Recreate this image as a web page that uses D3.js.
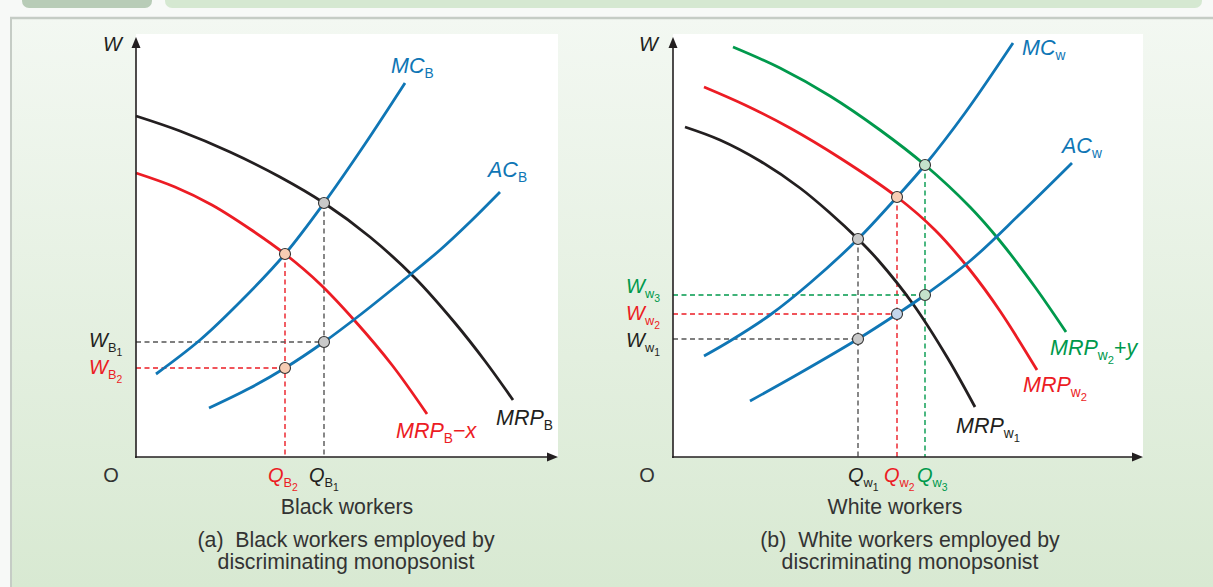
<!DOCTYPE html>
<html><head><meta charset="utf-8">
<script src="https://cdn.jsdelivr.net/npm/d3@7"></script>
<style>
html,body{margin:0;padding:0;background:#f7f9f7;}
svg{display:block;font-family:"Liberation Sans",Arial,sans-serif;}
text{white-space:pre;}
</style></head><body>
<svg id="c" width="1213" height="587"></svg>
<script>
// ---------- DATA (quantity, wage) ----------
// Panel (a): Black workers
const mrpB   = [[0,341],[44,326],[94,305],[144,280],[188,254],[234,220],[279,179],[319,134],[349,96],[377,57]];
const mrpBx  = [[0,284],[39,270],[76,252],[114,228],[149,203],[184,173],[219,136],[256,92],[291,43]];
const mcB    = [[20,83],[64,117],[106,157],[149,203],[188,254],[229,313],[269,374]];
const acB    = [[73,49],[114,69],[149,89],[188,115],[224,142],[264,174],[304,207],[334,235],[364,265]];
const qB     = [149, 188];          // Q_B2, Q_B1
const eqTopB = [203, 254];          // MC = MRP at Q_B2, Q_B1
const wB     = [89, 115];           // W_B2, W_B1
// Panel (b): White workers
const mrpW1  = [[12,330],[47,317],[87,296],[127,269],[157,244],[185,218],[205,197],[240,153],[274,100],[302,50]];
const mrpW2  = [[31,370],[72,352],[117,329],[167,299],[224,260],[262,227],[297,187],[327,146],[364,87]];
const mrpW2y = [[60,410],[107,389],[157,361],[207,327],[252,292],[297,250],[327,216],[362,170],[393,125]];
const mcW    = [[31,101],[57,116],[97,142],[137,174],[185,218],[224,260],[252,292],[292,344],[340,414]];
const acW    = [[77,56],[127,84],[185,118],[224,143],[252,162],[297,196],[347,243],[399,294]];
const qW     = [185, 224, 252];     // Q_w1, Q_w2, Q_w3
const eqTopW = [218, 260, 292];
const wW     = [118, 143, 162];     // W_w1, W_w2, W_w3

const BLUE="#0f76b5", RED="#ec1c24", GREEN="#00994c", BLACK="#231f20", GREY="#555";

const svg = d3.select("#c");
// ---------- background / frame ----------
const defs = svg.append("defs");
const gr = defs.append("linearGradient").attr("id","bg").attr("x1",0).attr("y1",0).attr("x2",0).attr("y2",1);
gr.append("stop").attr("offset","0%").attr("stop-color","#f3f8f2");
gr.append("stop").attr("offset","100%").attr("stop-color","#d8e9d2");
svg.append("rect").attr("width",1213).attr("height",587).attr("fill","#f7f9f7");
svg.append("rect").attr("x",11).attr("y",18).attr("width",1202).attr("height",569).attr("fill","url(#bg)");
svg.append("rect").attr("x",22).attr("y",-10).attr("width",130).attr("height",18).attr("rx",7).attr("fill","#b8ccb7");
svg.append("rect").attr("x",165).attr("y",-10).attr("width",1037).attr("height",18).attr("rx",7).attr("fill","#d5e8d1");
svg.append("line").attr("x1",10).attr("x2",1213).attr("y1",18).attr("y2",18).attr("stroke","#c5ccc5").attr("stroke-width",2.5);
svg.append("line").attr("x1",11).attr("x2",11).attr("y1",18).attr("y2",587).attr("stroke","#c5ccc5").attr("stroke-width",2);

// ---------- scales ----------
const yS = d3.scaleLinear().domain([0,420]).range([457,37]);
const xA = d3.scaleLinear().domain([0,422]).range([136,558]);
const xBs = d3.scaleLinear().domain([0,470]).range([673,1143]);

function label(g, x, y, parts, color, fs, anchor){
  const t = g.append("text").attr("x",x).attr("y",y).attr("fill",color)
    .attr("font-size",fs).attr("text-anchor",anchor||"start");
  const off = {0:0,1:5,2:9}, size={0:fs,1:fs*0.64,2:fs*0.52};
  let cur = 0;
  parts.forEach(p=>{
    const [txt, lvl, up] = p;
    const s = t.append("tspan").text(txt).attr("font-size",size[lvl])
      .attr("dy", off[lvl]-off[cur]);
    if(lvl===0 && !up) s.attr("font-style","italic");
    cur = lvl;
  });
  return t;
}

function panel(x, y, curves, qs, tops, ws, cols, circleFills, xEnd){
  const g = svg.append("g");
  const x0 = x.range()[0];
  g.append("rect").attr("x",x0).attr("y",34).attr("width",x.range()[1]-x0).attr("height",y(0)-34).attr("fill","#fff");
  qs.forEach((q,i)=>{
    g.append("line").attr("x1",x(q)).attr("x2",x(q)).attr("y1",y(tops[i])).attr("y2",y(0))
      .attr("stroke",cols[i]).attr("stroke-width",1.4).attr("stroke-dasharray","5,3.5");
    g.append("line").attr("x1",x(0)).attr("x2",x(q)).attr("y1",y(ws[i])).attr("y2",y(ws[i]))
      .attr("stroke",cols[i]).attr("stroke-width",1.4).attr("stroke-dasharray","5,3.5");
  });
  const line = d3.line().x(d=>x(d[0])).y(d=>y(d[1])).curve(d3.curveCatmullRom.alpha(0.5));
  curves.forEach(c=>{
    g.append("path").attr("d",line(c.data)).attr("fill","none").attr("stroke",c.color).attr("stroke-width",2.8);
  });
  g.append("line").attr("x1",x(0)).attr("x2",x(0)).attr("y1",y(0)+1).attr("y2",y(412)).attr("stroke",BLACK).attr("stroke-width",1.6);
  g.append("line").attr("x1",x(0)-1).attr("x2",xEnd-6).attr("y1",y(0)).attr("y2",y(0)).attr("stroke",BLACK).attr("stroke-width",1.6);
  g.append("path").attr("d",`M${x(0)},${y(420)} L${x(0)-4.5},${y(409)} L${x(0)+4.5},${y(409)} Z`).attr("fill",BLACK);
  g.append("path").attr("d",`M${xEnd},${y(0)} L${xEnd-11},${y(0)-4.5} L${xEnd-11},${y(0)+4.5} Z`).attr("fill",BLACK);
  qs.forEach((q,i)=>{
    [tops[i], ws[i]].forEach((v,j)=>{
      g.append("circle").attr("cx",x(q)).attr("cy",y(v)).attr("r",5.5)
        .attr("fill",circleFills[i][j]).attr("stroke","#333").attr("stroke-width",1.1);
    });
  });
  return g;
}

panel(xA, yS, [
  {data:mrpB,color:BLACK},{data:mrpBx,color:RED},{data:mcB,color:BLUE},{data:acB,color:BLUE}
], qB, eqTopB, wB, [RED, GREY], [["#f7cdb4","#f7cdb4"],["#c9c9c9","#c9c9c9"]], 558);

panel(xBs, yS, [
  {data:mrpW1,color:BLACK},{data:mrpW2,color:RED},{data:mrpW2y,color:GREEN},{data:mcW,color:BLUE},{data:acW,color:BLUE}
], qW, eqTopW, wW, [GREY, RED, GREEN], [["#c9c9c9","#c9c9c9"],["#f7cdb4","#c3d6ec"],["#c4e2cc","#c4e2cc"]], 1143);

const L = svg.append("g");
const FS = 20, FC = 21.5, FT = 21.3;
// panel (a) labels
label(L,103,51,[["W",0]],BLACK,FS);
label(L,111,482,[["O",0,true]],"#333",FS,"middle");
label(L,89,347,[["W",0],["B",1],["1",2]],BLACK,FS);
label(L,89,374,[["W",0],["B",1],["2",2]],RED,FS);
label(L,268,482,[["Q",0],["B",1],["2",2]],RED,FS);
label(L,309,482,[["Q",0],["B",1],["1",2]],BLACK,FS);
label(L,347,514,[["Black workers",0,true]],"#333",FT,"middle");
label(L,391,73,[["MC",0],["B",1]],BLUE,FC);
label(L,488,177,[["AC",0],["B",1]],BLUE,FC);
label(L,396,438,[["MRP",0],["B",1],["\u2212",0,true],["x",0]],RED,FC);
label(L,496,425,[["MRP",0],["B",1]],BLACK,FC);
// panel (b) labels
label(L,639,51,[["W",0]],BLACK,FS);
label(L,647,482,[["O",0,true]],"#333",FS,"middle");
label(L,626,293,[["W",0],["w",1],["3",2]],GREEN,FS);
label(L,626,320,[["W",0],["w",1],["2",2]],RED,FS);
label(L,626,347,[["W",0],["w",1],["1",2]],BLACK,FS);
label(L,848,482,[["Q",0],["w",1],["1",2]],BLACK,FS);
label(L,884,482,[["Q",0],["w",1],["2",2]],RED,FS);
label(L,917,482,[["Q",0],["w",1],["3",2]],GREEN,FS);
label(L,895,514,[["White workers",0,true]],"#333",FT,"middle");
label(L,1022,55,[["MC",0],["w",1]],BLUE,FC);
label(L,1062,153,[["AC",0],["w",1]],BLUE,FC);
label(L,1050,355,[["MRP",0],["w",1],["2",2],["+",0,true],["y",0]],GREEN,FC);
label(L,1023,392,[["MRP",0],["w",1],["2",2]],RED,FC);
label(L,956,433,[["MRP",0],["w",1],["1",2]],BLACK,FC);
// captions
label(L,346,547,[["(a)  Black workers employed by",0,true]],"#333",FT,"middle");
label(L,346,569,[["discriminating monopsonist",0,true]],"#333",FT,"middle");
label(L,910,547,[["(b)  White workers employed by",0,true]],"#333",FT,"middle");
label(L,910,569,[["discriminating monopsonist",0,true]],"#333",FT,"middle");
</script>
</body></html>
